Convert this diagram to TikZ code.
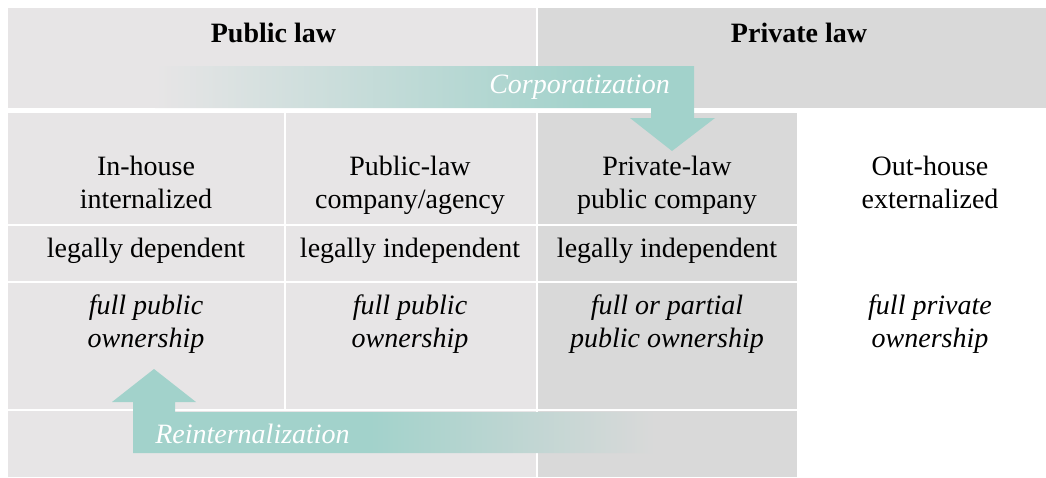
\documentclass[tikz,border=0pt]{standalone}
\usepackage{fontspec}
\setmainfont{Liberation Serif}

\definecolor{publicgray}{HTML}{E7E5E6}
\definecolor{privategray}{HTML}{D9D9D9}
\definecolor{arrowteal}{HTML}{A2D2CB}

\pgfdeclarehorizontalshading{corpfade}{100bp}{color(0bp)=(publicgray); color(25bp)=(publicgray); color(63.9bp)=(arrowteal); color(100bp)=(arrowteal)}
\pgfdeclarehorizontalshading{reintfade}{100bp}{color(0bp)=(arrowteal); color(48.7bp)=(arrowteal); color(75bp)=(privategray); color(100bp)=(privategray)}

\tikzstyle{cell line} = [draw, white, line width=2pt]
\tikzstyle{cell text} = [font=\fontsize{28}{33}\selectfont, align=center, anchor=base, inner sep=0pt]
\tikzstyle{head text} = [cell text, font=\fontsize{28}{33}\selectfont\bfseries]
\tikzstyle{own text} = [cell text, font=\fontsize{28}{33}\selectfont\itshape]
\tikzstyle{move text} = [own text, text=white]

\begin{document}
\begin{tikzpicture}[x=1pt, y=-1pt]
       \useasboundingbox (0,0) rectangle (1046,477);
       % fields
       \fill[publicgray] (8,8) rectangle (537,108);
       \fill[privategray] (537,8) rectangle (1046,108);
       \fill[publicgray] (8,113) rectangle (537,477);
       \fill[privategray] (537,113) rectangle (797,477);
       \path[cell line] (537,8) -- (537,108);
       \path[cell line] (537,113) -- (537,477);
       \path[cell line] (285,113) -- (285,410);
       \foreach \y in {225, 282, 410} {
           \path[cell line] (8,\y) -- (797,\y);
       }
       % arrows
       \shade[shading=corpfade] (155,66) -- (694,66) -- (694,118) -- (715,118) -- (672,151) -- (630,118) -- (651,118) -- (651,108) -- (155,108) -- cycle;
       \shade[shading=reintfade] (133,453) -- (133,402) -- (112,402) -- (154,369) -- (196,402) -- (175,402) -- (175,412) -- (655,412) -- (655,453) -- cycle;
       % texts
       \foreach \pos/\name/\lines in {{(273.5,42)/public/Public law}, {(799,42)/private/Private law}} {
           \node[head text] (\name) at \pos {\lines};
       }
       \node[move text] (corp) at (579.5,93) {Corporatization};
       \node[move text] (reint) at (252.5,443) {Reinternalization};
       \foreach \pos/\name/\lines in {{(146,208)/inhouse/{In-house\\internalized}}, {(410,208)/publicco/{Public-law\\company/agency}}, {(667,208)/privateco/{Private-law\\public company}}, {(930,208)/outhouse/{Out-house\\externalized}}, {(146,257)/dependent/legally dependent}, {(410,257)/indepA/legally independent}, {(667,257)/indepB/legally independent}} {
           \node[cell text] (\name) at \pos {\lines};
       }
       \foreach \pos/\name/\lines in {{(146,347)/ownA/{full public\\ownership}}, {(410,347)/ownB/{full public\\ownership}}, {(667,347)/ownC/{full or partial\\public ownership}}, {(930,347)/ownD/{full private\\ownership}}} {
           \node[own text] (\name) at \pos {\lines};
       }
\end{tikzpicture}
\end{document}
